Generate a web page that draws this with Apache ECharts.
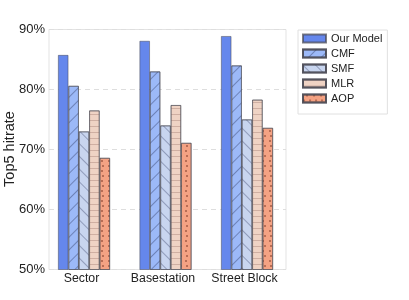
<!DOCTYPE html>
<html><head><meta charset="utf-8">
<script src="https://cdn.jsdelivr.net/npm/echarts@6/dist/echarts.min.js"></script>
<style>html,body{margin:0;padding:0;background:#fff}#c{width:409px;height:300px}</style>
</head><body><div id="c"></div>
<script>
const categories = ['Sector', 'Basestation', 'Street Block'];
const seriesNames = ['Our Model', 'CMF', 'SMF', 'MLR', 'AOP'];
const ourModel = [85.75, 88.1, 88.9];
const cmf = [80.6, 83.0, 84.0];
const smf = [73.0, 74.0, 75.0];
const mlr = [76.5, 77.4, 78.3];
const aop = [68.6, 71.1, 73.6];
const yTicks = [50, 60, 70, 80, 90];
const yName = 'Top5 hitrate';

const values = [ourModel, cmf, smf, mlr, aop];
const colors = ['#6587ec', '#9cb9f8', '#c8d5ef', '#efd3c4', '#f4a283'];
const edge = 'rgba(70,70,80,0.7)';
const decals = [
  null,
  {symbol:'rect', symbolSize:1, dashArrayX:[1,0], dashArrayY:[0.6,7.4], rotation:-Math.PI/4, color:'rgba(40,50,90,0.4)'},
  {symbol:'rect', symbolSize:1, dashArrayX:[1,0], dashArrayY:[0.6,7.4], rotation:Math.PI/4, color:'rgba(40,50,90,0.35)'},
  {symbol:'rect', symbolSize:1, dashArrayX:[1,0], dashArrayY:[0.5,4.5], rotation:0, color:'rgba(140,100,90,0.32)'},
  {symbol:'circle', symbolSize:1, dashArrayX:[[1.1,3.9],[0,2.5,1.1,1.4]], dashArrayY:[1.1,2.4], rotation:0, color:'rgba(110,45,30,0.6)'}
];

const series = seriesNames.map((n, i) => ({
  name: n, type: 'bar', xAxisIndex: 0, yAxisIndex: 0,
  data: values[i], barWidth: 10.4, barGap: '0%',
  itemStyle: Object.assign({color: colors[i], borderColor: edge, borderWidth: 0.7},
    decals[i] ? {decal: decals[i]} : {}),
  emphasis: {disabled: true}
}));

const chart = echarts.init(document.getElementById('c'), null, {renderer: 'canvas'});
chart.setOption({
  animation: false,
  backgroundColor: '#fff',
  textStyle: {fontFamily: 'Liberation Sans, Arial, sans-serif'},
  grid: [
    {left: 43.25, right: 121.25, top: 29.5, bottom: 30.5, outerBoundsMode: 'none', containLabel: false},
    {left: 49, right: 123, top: 29.5, bottom: 30.5, outerBoundsMode: 'none', containLabel: false,
     show: true, borderColor: '#e3e3e3', borderWidth: 1, z: 0}
  ],
  xAxis: [
    {type: 'category', gridIndex: 0, data: categories,
     axisLine: {show: false}, axisTick: {show: false},
     axisLabel: {color: '#222', fontSize: 12.3, margin: 3, padding: [0, 5, 0, 0], interval: 0, hideOverlap: false}},
    {type: 'value', gridIndex: 1, show: false, min: 0, max: 1}
  ],
  yAxis: [
    {type: 'value', gridIndex: 0, min: yTicks[0], max: yTicks[yTicks.length-1], interval: 10, show: false, splitLine: {show: false}},
    {type: 'value', gridIndex: 1, min: yTicks[0], max: yTicks[yTicks.length-1], interval: 10,
     axisLine: {show: false}, axisTick: {show: false},
     axisLabel: {color: '#222', fontSize: 13, margin: 4, formatter: '{value}%'},
     splitLine: {show: true, lineStyle: {color: '#dedede', type: [5, 4], width: 1}}}
  ],
  graphic: [{
    type: 'text', x: 10, y: 149, rotation: Math.PI / 2,
    style: {text: yName, align: 'center', verticalAlign: 'middle', fontSize: 14.5, fill: '#222',
            fontFamily: 'Liberation Sans, Arial, sans-serif'}
  }],
  legend: {
    orient: 'vertical', left: 298, top: 30,
    data: seriesNames, icon: 'rect',
    itemWidth: 23, itemHeight: 8, itemGap: 4,
    textStyle: {color: '#222', fontSize: 11, lineHeight: 11},
    borderColor: '#e0e0e0', borderWidth: 1, padding: [3, 5, 10, 4]
  },
  series: series
});
</script></body></html>
